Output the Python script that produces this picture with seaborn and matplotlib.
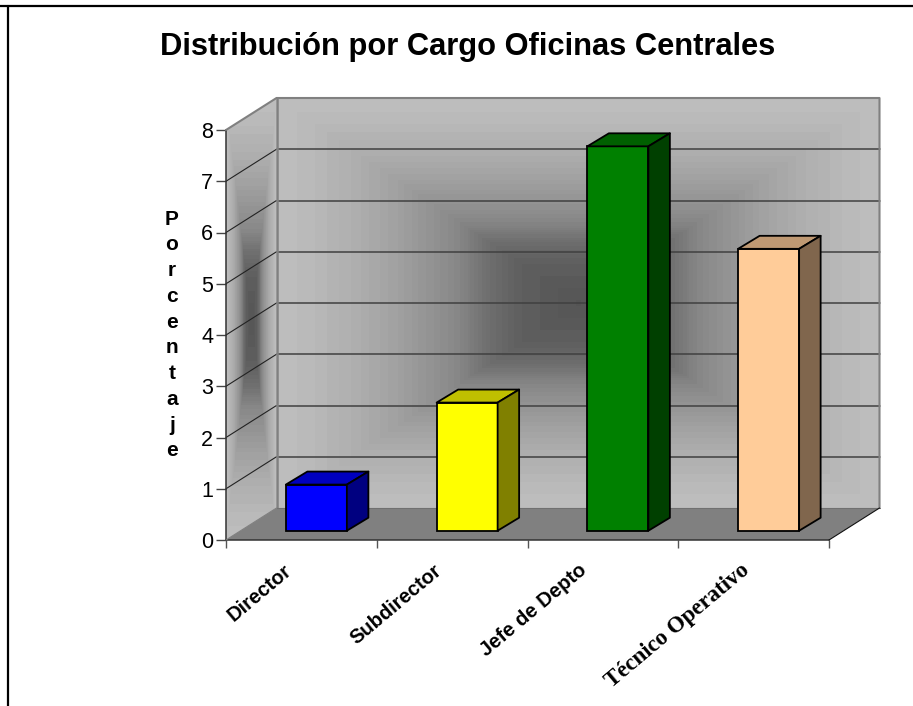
import numpy as np
import seaborn as sns
import matplotlib.pyplot as plt
from matplotlib.colors import to_rgb
from matplotlib.lines import Line2D
from matplotlib.patches import Polygon

cargos = ['Director', 'Subdirector', 'Jefe de Depto', 'Técnico Operativo']
valores = [0.9, 2.5, 7.5, 5.5]
colores = ['#0000FF', '#FFFF00', '#008000', '#FFCC99']
ticks_y = [0, 1, 2, 3, 4, 5, 6, 7, 8]

W, H = 913, 706

sns.set_theme(style='white')
plt.rcParams['font.family'] = ['Liberation Sans', 'DejaVu Sans']

fig = plt.figure(figsize=(W / 100, H / 100), dpi=100)
fig.patch.set_facecolor('white')

# front plane of the fake 3d box, pixels measured on the reference
ax = fig.add_axes([226 / W, (H - 540) / H, 603 / W, 410 / H])
px_x = 603 / 4
px_y = 410 / 8
dx = 50.5 / px_x
dy = 32 / px_y
x0, x1 = -0.5, 3.5


def sombra(n, m):
    # wall shading: dark centre, rectangular contours, in steps
    u = np.abs(np.linspace(-1, 1, m))
    v = np.abs(np.linspace(-1, 1, n))
    d = np.maximum.outer(v, u)
    g = np.interp(d, [0, 0.2, 0.3, 0.4, 0.6, 0.75, 0.9, 1], [85, 95, 110, 135, 160, 175, 186, 190])
    return np.round(g / 3) * 3


ax.imshow(sombra(205, 300), cmap='gray', vmin=0, vmax=255, aspect='auto', interpolation='nearest',
          extent=(x0 + dx, x1 + dx, dy, 8 + dy), zorder=0, clip_on=False)
left = ax.imshow(sombra(220, 50), cmap='gray', vmin=0, vmax=255, aspect='auto', interpolation='nearest',
                 extent=(x0, x0 + dx, 0, 8 + dy), zorder=0)
left.set_clip_box(fig.bbox)
left.set_clip_path(Polygon([(x0, 0), (x0 + dx, dy), (x0 + dx, 8 + dy), (x0, 8)], transform=ax.transData))
ax.set_xlim(x0, x1)
ax.set_ylim(0, 8)

# floor
ax.add_patch(Polygon([(x0, 0), (x1, 0), (x1 + dx, dy), (x0 + dx, dy)], closed=True, fc='#808080', ec='none',
                     zorder=1, clip_on=False))

# grid on both walls
for t in ticks_y[1:-1]:
    ax.plot([x0, x0 + dx], [t, t + dy], color='#222222', lw=0.8, zorder=2, clip_on=False)
    ax.plot([x0 + dx, x1 + dx], [t + dy, t + dy], color='#404040', lw=1.1, zorder=2, clip_on=False)

# wall borders
ax.plot([x0, x0 + dx, x1 + dx, x1 + dx], [8, 8 + dy, 8 + dy, dy], color='#808080', lw=1.5, zorder=3, clip_on=False)
ax.plot([x0 + dx, x0 + dx], [8 + dy, dy], color='#808080', lw=1.8, zorder=3, clip_on=False)
ax.plot([x0, x0 + dx], [0, dy], color='#808080', lw=0.8, zorder=3, clip_on=False)
ax.plot([x0 + dx, x1 + dx], [dy, dy], color='#707070', lw=0.8, zorder=3, clip_on=False)
ax.plot([x1, x1 + dx], [0, dy], color='#111111', lw=0.8, zorder=3, clip_on=False)

sns.despine(ax=ax, top=True, right=True)
for s in ['left', 'bottom']:
    ax.spines[s].set_color('#333333')
    ax.spines[s].set_linewidth(1.1)
ax.set_facecolor('none')
ax.set_yticks(ticks_y)
ax.set_xticks([-0.5, 0.5, 1.5, 2.5, 3.5])
ax.set_xticklabels([])
ax.tick_params(axis='y', left=True, length=7.2, width=1, color='#444444', labelsize=15.5, pad=2, labelcolor='black')
ax.tick_params(axis='x', bottom=True, length=5.8, width=1, color='#555555')

# bars stand a bit inside the box, so they get their own shifted axes
ax_b = fig.add_axes([(226 + 15) / W, (H - 540 + 9.3) / H, 603 / W, 410 / H])
sns.barplot(x=cargos, y=valores, hue=cargos, palette=colores, width=61 / px_x, saturation=1, legend=False,
            edgecolor='black', linewidth=1.3, ax=ax_b)
ax_b.set_xlim(x0, x1)
ax_b.set_ylim(0, 8)
ax_b.axis('off')

bx = 21.5 / px_x
by = 13 / px_y
for p, c in zip(ax_b.patches, colores):
    p.set_clip_on(False)
    a, w, h = p.get_x(), p.get_width(), p.get_height()
    base = np.array(to_rgb(c))
    top = Polygon([(a, h), (a + w, h), (a + w + bx, h + by), (a + bx, h + by)], closed=True, fc=base * 0.75,
                  ec='black', lw=1.3, clip_on=False, joinstyle='round')
    side = Polygon([(a + w, 0), (a + w + bx, by), (a + w + bx, h + by), (a + w, h)], closed=True, fc=base * 0.5,
                   ec='black', lw=1.3, clip_on=False, joinstyle='round')
    ax_b.add_patch(top)
    ax_b.add_patch(side)

# category labels, last one came out in a serif face in the reference
fuentes = ['Liberation Sans', 'Liberation Sans', 'Liberation Sans', 'Liberation Serif']
tamanos = [14.5, 14.5, 14.5, 16.5]
corrimientos = [-12, -13, -19, -7]
for i, c in enumerate(cargos):
    ax.annotate(c, xy=(i, 0), xytext=(corrimientos[i], -28), xycoords='data', textcoords='offset pixels', rotation=40,
                rotation_mode='anchor', ha='right', va='center', fontsize=tamanos[i], fontweight='bold',
                family=fuentes[i], color='black')

fig.text(467.5 / W, 1 - 47 / H, 'Distribución por Cargo Oficinas Centrales', ha='center', va='center', fontsize=22.2,
         fontweight='bold', color='black')
fig.text(172 / W, 1 - 335 / H, '\n'.join('Porcentaje'), ha='center', va='center', fontsize=15, fontweight='bold',
         linespacing=1.45, color='black')

# outer frame: only top and left show up in the reference
fig.add_artist(Line2D([0, 1], [1 - 6 / H, 1 - 6 / H], color='black', lw=1.6))
fig.add_artist(Line2D([8 / W, 8 / W], [0, 1 - 6 / H], color='black', lw=1.6))

fig.savefig('out.png', dpi=100)
